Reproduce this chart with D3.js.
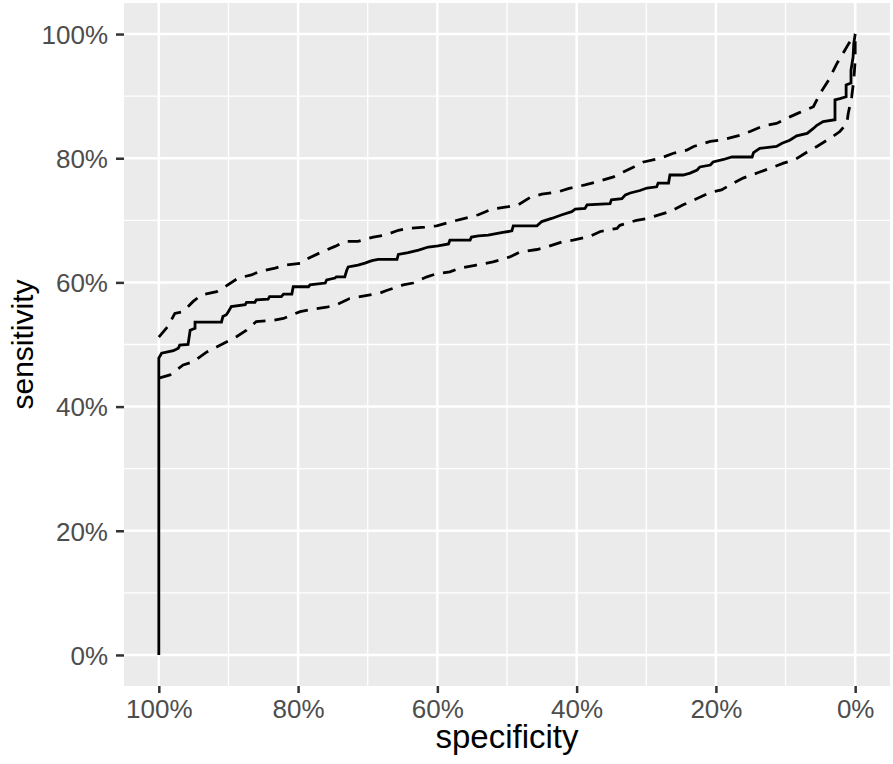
<!DOCTYPE html>
<html lang="en">
<head>
  <meta charset="UTF-8">
  <title>ROC curve with confidence band</title>
  <style>
    body { margin: 0; background: #fff; }
    svg { display: block; font-family: "Liberation Sans", Arial, Helvetica, sans-serif; }
  </style>
</head>
<body>
  <svg id="chart" width="893" height="764"></svg>

  <script src="https://d3js.org/d3.v7.min.js"></script>
  <script>
    // ROC curve: [specificity, sensitivity]
    const rocCurve = [
      [1, 0], [1, 0.478], [0.996, 0.486], [0.979, 0.490], [0.972, 0.494], [0.970, 0.499],
      [0.958, 0.500], [0.955, 0.523], [0.948, 0.526], [0.948, 0.536], [0.910, 0.536],
      [0.908, 0.545], [0.903, 0.548], [0.900, 0.553], [0.896, 0.561], [0.876, 0.564],
      [0.874, 0.568], [0.862, 0.568], [0.860, 0.572], [0.843, 0.573], [0.841, 0.577],
      [0.824, 0.577], [0.821, 0.581], [0.809, 0.581], [0.807, 0.593], [0.785, 0.593],
      [0.783, 0.596], [0.761, 0.599], [0.759, 0.604], [0.747, 0.607], [0.745, 0.609],
      [0.733, 0.609], [0.730, 0.620], [0.728, 0.625], [0.714, 0.628], [0.704, 0.631],
      [0.694, 0.635], [0.685, 0.637], [0.658, 0.637], [0.656, 0.645], [0.642, 0.648],
      [0.627, 0.652], [0.613, 0.657], [0.599, 0.659], [0.584, 0.662], [0.582, 0.668],
      [0.553, 0.668], [0.551, 0.673], [0.541, 0.675], [0.527, 0.676], [0.508, 0.680],
      [0.493, 0.683], [0.491, 0.691], [0.457, 0.691], [0.450, 0.698], [0.436, 0.703],
      [0.421, 0.709], [0.407, 0.714], [0.402, 0.718], [0.388, 0.719], [0.385, 0.725],
      [0.352, 0.727], [0.350, 0.733], [0.335, 0.735], [0.330, 0.741], [0.323, 0.744],
      [0.309, 0.748], [0.299, 0.752], [0.285, 0.754], [0.283, 0.760], [0.268, 0.760],
      [0.266, 0.773], [0.247, 0.773], [0.237, 0.776], [0.227, 0.781], [0.223, 0.786],
      [0.208, 0.789], [0.204, 0.794], [0.189, 0.798], [0.177, 0.802], [0.148, 0.802],
      [0.146, 0.809], [0.137, 0.816], [0.113, 0.819], [0.105, 0.824], [0.094, 0.829],
      [0.084, 0.836], [0.069, 0.840], [0.060, 0.848], [0.055, 0.853], [0.046, 0.859],
      [0.029, 0.862], [0.029, 0.894], [0.022, 0.896], [0.013, 0.899], [0.013, 0.918],
      [0.006, 0.921], [0.006, 0.942], [0.003, 0.963], [0.002, 0.985], [0, 1]
    ];

    // upper confidence bound (dashed)
    const ciUpper = [
      [1, 0.512], [0.987, 0.529], [0.977, 0.550], [0.965, 0.553], [0.951, 0.569],
      [0.939, 0.580], [0.917, 0.585], [0.905, 0.593], [0.886, 0.607], [0.867, 0.612],
      [0.857, 0.617], [0.833, 0.623], [0.819, 0.628], [0.795, 0.631], [0.785, 0.639],
      [0.766, 0.649], [0.747, 0.658], [0.733, 0.666], [0.714, 0.666], [0.692, 0.673],
      [0.675, 0.676], [0.656, 0.684], [0.642, 0.687], [0.618, 0.689], [0.601, 0.691],
      [0.579, 0.698], [0.565, 0.702], [0.541, 0.709], [0.522, 0.718], [0.498, 0.722],
      [0.484, 0.725], [0.465, 0.738], [0.450, 0.742], [0.426, 0.746], [0.412, 0.751],
      [0.388, 0.757], [0.371, 0.762], [0.347, 0.770], [0.333, 0.778], [0.318, 0.786],
      [0.304, 0.794], [0.280, 0.800], [0.261, 0.808], [0.242, 0.813], [0.232, 0.819],
      [0.208, 0.827], [0.189, 0.830], [0.165, 0.837], [0.151, 0.843], [0.132, 0.852],
      [0.113, 0.856], [0.093, 0.867], [0.081, 0.873], [0.060, 0.883], [0.050, 0.905],
      [0.038, 0.926], [0.026, 0.953], [0.019, 0.966], [0.009, 0.985], [0.002, 0.996], [0, 1]
    ];

    // lower confidence bound (dashed)
    const ciLower = [
      [1, 0.446], [0.984, 0.451], [0.965, 0.467], [0.951, 0.472], [0.931, 0.488],
      [0.917, 0.496], [0.898, 0.507], [0.888, 0.513], [0.874, 0.523], [0.860, 0.537],
      [0.836, 0.539], [0.821, 0.542], [0.797, 0.553], [0.783, 0.556], [0.759, 0.560],
      [0.745, 0.564], [0.726, 0.574], [0.711, 0.577], [0.682, 0.583], [0.673, 0.587],
      [0.649, 0.596], [0.635, 0.599], [0.615, 0.609], [0.601, 0.614], [0.582, 0.617],
      [0.568, 0.623], [0.544, 0.628], [0.520, 0.633], [0.496, 0.641], [0.481, 0.649],
      [0.457, 0.653], [0.443, 0.657], [0.419, 0.666], [0.405, 0.668], [0.381, 0.674],
      [0.366, 0.682], [0.342, 0.687], [0.338, 0.692], [0.314, 0.700], [0.299, 0.703],
      [0.266, 0.714], [0.247, 0.725], [0.227, 0.735], [0.208, 0.745], [0.192, 0.749],
      [0.175, 0.760], [0.161, 0.768], [0.139, 0.777], [0.122, 0.784], [0.103, 0.792],
      [0.086, 0.798], [0.069, 0.810], [0.055, 0.819], [0.036, 0.832], [0.022, 0.843],
      [0.012, 0.856], [0.010, 0.872], [0.005, 0.899], [0.002, 0.926], [0, 0.958], [0, 1]
    ];

    const majorTicks = [0, 0.2, 0.4, 0.6, 0.8, 1];
    const minorTicks = [0.1, 0.3, 0.5, 0.7, 0.9];
    const xTitle = "specificity";
    const yTitle = "sensitivity";

    const svg = d3.select("#chart");
    const panel = { left: 124, right: 890, top: 3, bottom: 686 };
    const pad = 0.05; // ggplot style expansion

    // specificity runs backwards, 100% on the left
    const x = d3.scaleLinear().domain([1 + pad, -pad]).range([panel.left, panel.right]);
    const y = d3.scaleLinear().domain([-pad, 1 + pad]).range([panel.bottom, panel.top]);
    const pct = d3.format(".0%");

    // grey panel
    svg.append("rect")
      .attr("x", panel.left).attr("y", panel.top)
      .attr("width", panel.right - panel.left)
      .attr("height", panel.bottom - panel.top)
      .attr("fill", "#ebebeb");

    const grid = svg.append("g");
    // minor grid
    grid.selectAll(".vminor").data(minorTicks).enter().append("line")
      .attr("x1", d => x(d)).attr("x2", d => x(d))
      .attr("y1", panel.top).attr("y2", panel.bottom)
      .attr("stroke", "#fff").attr("stroke-width", 1.3);
    grid.selectAll(".hminor").data(minorTicks).enter().append("line")
      .attr("y1", d => y(d)).attr("y2", d => y(d))
      .attr("x1", panel.left).attr("x2", panel.right)
      .attr("stroke", "#fff").attr("stroke-width", 1.3);
    // major grid
    grid.selectAll(".vmajor").data(majorTicks).enter().append("line")
      .attr("x1", d => x(d)).attr("x2", d => x(d))
      .attr("y1", panel.top).attr("y2", panel.bottom)
      .attr("stroke", "#fff").attr("stroke-width", 2.5);
    grid.selectAll(".hmajor").data(majorTicks).enter().append("line")
      .attr("y1", d => y(d)).attr("y2", d => y(d))
      .attr("x1", panel.left).attr("x2", panel.right)
      .attr("stroke", "#fff").attr("stroke-width", 2.5);

    // axes
    const xAxis = svg.append("g")
      .attr("transform", `translate(0,${panel.bottom})`)
      .call(d3.axisBottom(x).tickValues(majorTicks).tickFormat(pct).tickSize(7).tickPadding(6));
    const yAxis = svg.append("g")
      .attr("transform", `translate(${panel.left},0)`)
      .call(d3.axisLeft(y).tickValues(majorTicks).tickFormat(pct).tickSize(8).tickPadding(8));

    [xAxis, yAxis].forEach(ax => {
      ax.select(".domain").remove();
      ax.selectAll(".tick line").attr("stroke", "#333").attr("stroke-width", 2.5);
      ax.selectAll(".tick text")
        .attr("fill", "#4d4d4d")
        .style("font-size", "26px")
        .style("font-family", "'Liberation Sans', Arial, sans-serif");
    });
    xAxis.selectAll(".tick text").attr("dy", "0.73em");
    yAxis.selectAll(".tick text").attr("dy", "0.36em");

    // lines
    const line = d3.line().x(d => x(d[0])).y(d => y(d[1]));

    svg.append("path")
      .datum(ciUpper)
      .attr("d", line)
      .attr("fill", "none")
      .attr("stroke", "#000")
      .attr("stroke-width", 2.8)
      .attr("stroke-dasharray", "13,9");

    svg.append("path")
      .datum(ciLower)
      .attr("d", line)
      .attr("fill", "none")
      .attr("stroke", "#000")
      .attr("stroke-width", 2.8)
      .attr("stroke-dasharray", "13,9");

    svg.append("path")
      .datum(rocCurve)
      .attr("d", line)
      .attr("fill", "none")
      .attr("stroke", "#000")
      .attr("stroke-width", 2.8)
      .attr("stroke-linejoin", "miter");

    // axis titles
    svg.append("text")
      .attr("x", (panel.left + panel.right) / 2)
      .attr("y", 748)
      .attr("text-anchor", "middle")
      .style("font-size", "33px")
      .text(xTitle);

    svg.append("text")
      .attr("transform", `translate(33,${(panel.top + panel.bottom) / 2}) rotate(-90)`)
      .attr("text-anchor", "middle")
      .style("font-size", "30px")
      .text(yTitle);
  </script>
</body>
</html>
